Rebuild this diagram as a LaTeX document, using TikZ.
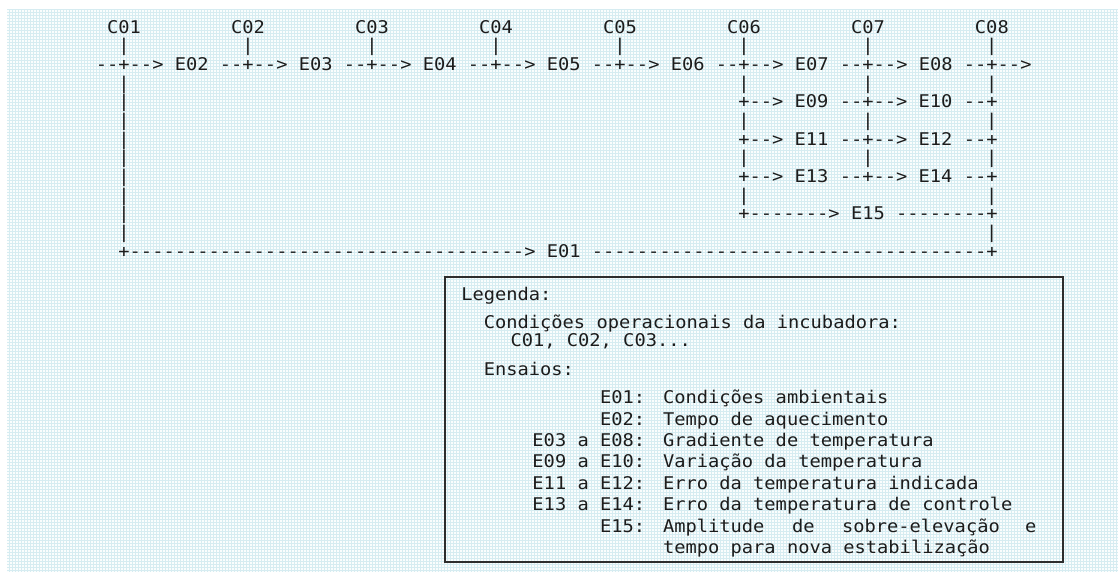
\documentclass[tikz,border=0pt]{standalone}
\usepackage{fontspec}
\setmonofont[FakeStretch=1.07]{DejaVu Sans Mono}
\newcommand\asciifont{\ttfamily\fontsize{17.5}{18.65}\selectfont\frenchspacing}
\definecolor{ink}{RGB}{28,28,28}
\definecolor{paper}{RGB}{250,253,253}
\definecolor{gridcyan}{RGB}{214,236,241}
\definecolor{frame}{RGB}{45,45,45}
\begin{document}
\begin{tikzpicture}[x=1pt,y=-1pt,
  ascii/.style={anchor=base west, inner sep=0pt, outer sep=0pt, font=\asciifont, text=ink},
  asciiR/.style={ascii, anchor=base east},
  legendbox/.style={draw=frame, line width=1.2pt}]
\useasboundingbox (0,0) rectangle (1118,572);
% squared paper
\fill[paper] (7,9) rectangle (1118,572);
\begin{scope}[y=1pt]
  \draw[gridcyan, line width=0.5pt] (7,-572) grid[step=3] (1118,-9);
\end{scope}

% flow chart written on a character grid (column, row)
\begin{scope}[shift={(95.9,33.3)}, x=11.27pt, y=-18.65pt]
  % operating conditions and their ticks
  \foreach \i in {1,...,8} {
    \node[ascii] (c\i) at ({1+11*(\i-1)},0) {C0\i};
    \node[ascii] (t\i) at ({2+11*(\i-1)},1) {|};
  }
  \node[ascii] (main) at (0,2) {--+--> E02 --+--> E03 --+--> E04 --+--> E05 --+--> E06 --+--> E07 --+--> E08 --+-->};
  % left return line
  \foreach \r in {3,...,11} \node[ascii] (l\r) at (2,\r) {|};
  % branch rows
  \foreach \r in {3,5,7} {
    \node[ascii] (a\r) at (57,\r) {|};
    \node[ascii] (b\r) at (68,\r) {|};
    \node[ascii] (d\r) at (79,\r) {|};
  }
  \node[ascii] (r4) at (57,4) {+--> E09 --+--> E10 --+};
  \node[ascii] (r6) at (57,6) {+--> E11 --+--> E12 --+};
  \node[ascii] (r8) at (57,8) {+--> E13 --+--> E14 --+};
  \node[ascii] (a9) at (57,9) {|};
  \node[ascii] (d9) at (79,9) {|};
  \node[ascii] (r10) at (57,10) {+-------> E15 --------+};
  \node[ascii] (d11) at (79,11) {|};
  \node[ascii] (r12) at (2,12) {+-----------------------------------> E01 -----------------------------------+};
\end{scope}

% legend
\draw[legendbox] (445,277) rectangle (1063,562);
\node[ascii] (lg) at (461.3,300.7) {Legenda:};
\node[ascii] (lc) at (483.8,328.3) {Condições operacionais da incubadora:};
\node[ascii] (lcl) at (510.5,346.7) {C01, C02, C03...};
\node[ascii] (le) at (483.8,375) {Ensaios:};
\node[asciiR] (k1) at (645.2,403.3) {E01:};
\node[ascii] (v1) at (663,403.3) {Condições ambientais};
\node[asciiR] (k2) at (645.2,425) {E02:};
\node[ascii] (v2) at (663,425) {Tempo de aquecimento};
\node[asciiR] (k3) at (645.2,446.4) {E03 a E08:};
\node[ascii] (v3) at (663,446.4) {Gradiente de temperatura};
\node[asciiR] (k4) at (645.2,467.8) {E09 a E10:};
\node[ascii] (v4) at (663,467.8) {Variação da temperatura};
\node[asciiR] (k5) at (645.2,489.2) {E11 a E12:};
\node[ascii] (v5) at (663,489.2) {Erro da temperatura indicada};
\node[asciiR] (k6) at (645.2,510.6) {E13 a E14:};
\node[ascii] (v6) at (663,510.6) {Erro da temperatura de controle};
\node[asciiR] (k7) at (645.2,532) {E15:};
\node[ascii] (v7a) at (663,532) {Amplitude};
\node[ascii] (v7b) at (792,532) {de};
\node[ascii] (v7c) at (842,532) {sobre-elevação};
\node[ascii] (v7d) at (1025,532) {e};
\node[ascii] (v8) at (663,553.4) {tempo para nova estabilização};
\end{tikzpicture}
\end{document}
